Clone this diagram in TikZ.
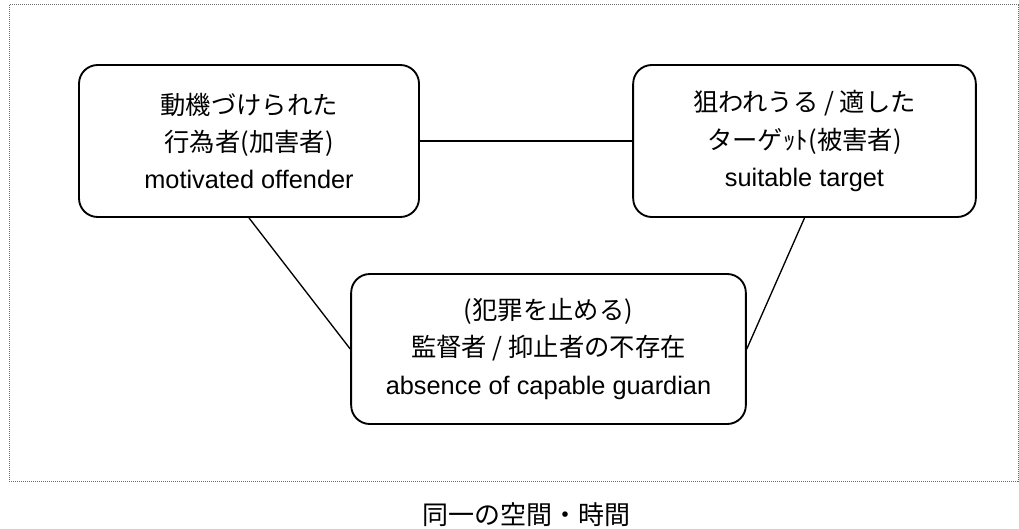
\documentclass[tikz,border=0pt]{standalone}
\usepackage{fontspec}
\setmainfont{Liberation Sans}
\newfontfamily\jp{Noto Sans CJK JP}
\usepackage{tikz}

\begin{document}
\begin{tikzpicture}[x=0.75pt, y=-0.75pt,
        box/.style={draw, line width=1.4pt, rounded corners=14pt, align=center, inner sep=0pt, font=\fontsize{19}{28}\selectfont},
        link/.style={line width=1pt}]
        \useasboundingbox (0,0) rectangle (1019,528);
        \draw[gray!85!black, line width=0.75pt, dash pattern=on 0.75pt off 0.75pt] (9,5) rectangle (1018,481);
        \node (M) at (249,141) [box, minimum width=255pt, minimum height=114pt] {{\jp 動機づけられた}\\{\jp 行為者(加害者)}\\motivated offender};
        \node (T) at (804.5,141) [box, minimum width=257pt, minimum height=114pt] {{\jp 狙われうる / 適した}\\{\jp ターゲｯﾄ(被害者)}\\suitable target};
        \node (G) at (548.5,349) [box, minimum width=296pt, minimum height=112.5pt] {{\jp (犯罪を止める)}\\{\jp 監督者 / 抑止者の不存在}\\absence of capable guardian};
        \node (S) at (526,515) [font=\fontsize{19.5}{24}\selectfont] {\jp 同一の空間・時間};
        \draw[link] (M) -- (T);
        \draw[link] (M.south) -- (G.west);
        \draw[link] (T.south) -- (G.east);
\end{tikzpicture}
\end{document}
